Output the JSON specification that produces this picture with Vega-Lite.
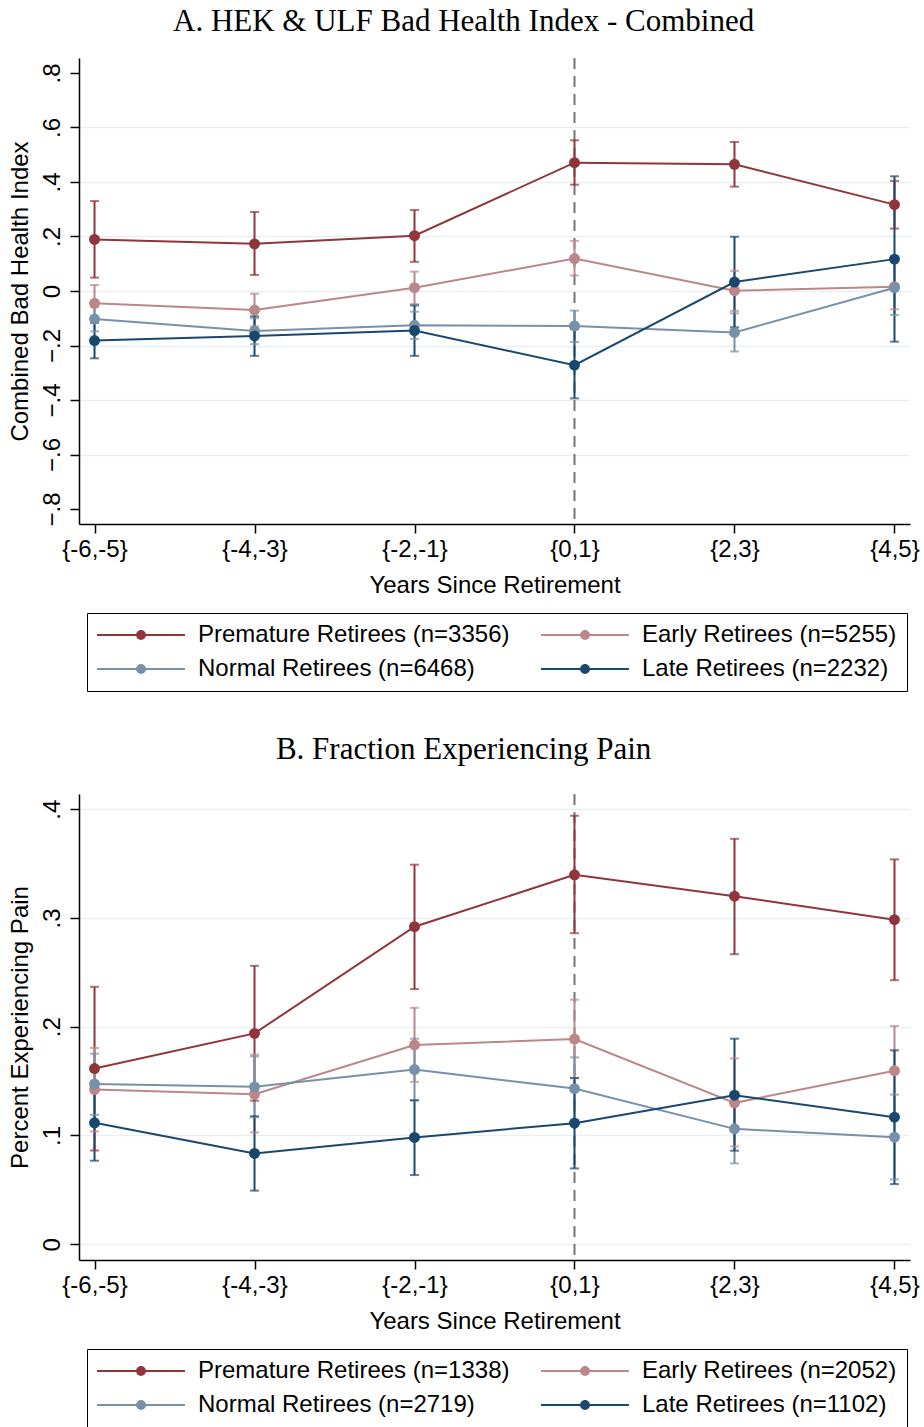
{
  "$schema": "https://vega.github.io/schema/vega-lite/v6.json",
  "background": "white",
  "padding": {"left": 8, "top": 6, "right": 4, "bottom": 0},
  "spacing": 42,
  "config": {
    "view": {"stroke": null},
    "font": "Liberation Sans",
    "axis": {
      "labelFont": "Liberation Sans", "labelFontSize": 24, "labelColor": "black",
      "titleFont": "Liberation Sans", "titleFontSize": 24, "titleFontWeight": "normal", "titleColor": "black",
      "domainColor": "black", "domainWidth": 1.5, "tickColor": "black", "tickWidth": 1.5, "tickSize": 9,
      "gridColor": "#e8f0f2", "gridWidth": 1.5
    },
    "axisX": {"grid": false, "labelAngle": 0, "labelPadding": 4, "titlePadding": 12},
    "axisY": {"labelAngle": 270, "labelPadding": 6, "titlePadding": 8},
    "legend": {
      "labelFont": "Liberation Sans", "labelFontSize": 24, "labelColor": "black", "labelLimit": 400,
      "symbolType": "M-1,-0.09H6.33V0.09H-1Z M2.26,0A0.41,0.41 0 1 1 3.08,0A0.41,0.41 0 1 1 2.26,0Z",
      "symbolSize": 576, "symbolStrokeWidth": 0,
      "strokeColor": "black", "padding": 10, "rowPadding": 10, "columnPadding": 31, "labelOffset": 77,
      "cornerRadius": 0
    },
    "title": {"font": "Liberation Serif", "fontSize": 31, "fontWeight": "normal", "color": "black", "anchor": "middle", "frame": "bounds"}
  },
  "datasets": {
    "a": [
      {"group": "Premature", "series": "Premature Retirees (n=3356)", "period": "{-6,-5}", "est": 0.189, "lo": 0.049, "hi": 0.33},
      {"group": "Premature", "series": "Premature Retirees (n=3356)", "period": "{-4,-3}", "est": 0.173, "lo": 0.059, "hi": 0.29},
      {"group": "Premature", "series": "Premature Retirees (n=3356)", "period": "{-2,-1}", "est": 0.203, "lo": 0.107, "hi": 0.297},
      {"group": "Premature", "series": "Premature Retirees (n=3356)", "period": "{0,1}", "est": 0.471, "lo": 0.39, "hi": 0.553},
      {"group": "Premature", "series": "Premature Retirees (n=3356)", "period": "{2,3}", "est": 0.465, "lo": 0.383, "hi": 0.547},
      {"group": "Premature", "series": "Premature Retirees (n=3356)", "period": "{4,5}", "est": 0.317, "lo": 0.229, "hi": 0.404},
      {"group": "Early", "series": "Early Retirees (n=5255)", "period": "{-6,-5}", "est": -0.045, "lo": -0.112, "hi": 0.022},
      {"group": "Early", "series": "Early Retirees (n=5255)", "period": "{-4,-3}", "est": -0.07, "lo": -0.13, "hi": -0.01},
      {"group": "Early", "series": "Early Retirees (n=5255)", "period": "{-2,-1}", "est": 0.012, "lo": -0.048, "hi": 0.071},
      {"group": "Early", "series": "Early Retirees (n=5255)", "period": "{0,1}", "est": 0.119, "lo": 0.057, "hi": 0.184},
      {"group": "Early", "series": "Early Retirees (n=5255)", "period": "{2,3}", "est": 0.001, "lo": -0.073, "hi": 0.074},
      {"group": "Early", "series": "Early Retirees (n=5255)", "period": "{4,5}", "est": 0.016, "lo": -0.067, "hi": 0.11},
      {"group": "Normal", "series": "Normal Retirees (n=6468)", "period": "{-6,-5}", "est": -0.103, "lo": -0.148, "hi": -0.058},
      {"group": "Normal", "series": "Normal Retirees (n=6468)", "period": "{-4,-3}", "est": -0.147, "lo": -0.195, "hi": -0.1},
      {"group": "Normal", "series": "Normal Retirees (n=6468)", "period": "{-2,-1}", "est": -0.126, "lo": -0.176, "hi": -0.076},
      {"group": "Normal", "series": "Normal Retirees (n=6468)", "period": "{0,1}", "est": -0.128, "lo": -0.187, "hi": -0.072},
      {"group": "Normal", "series": "Normal Retirees (n=6468)", "period": "{2,3}", "est": -0.152, "lo": -0.222, "hi": -0.082},
      {"group": "Normal", "series": "Normal Retirees (n=6468)", "period": "{4,5}", "est": 0.012, "lo": -0.088, "hi": 0.112},
      {"group": "Late", "series": "Late Retirees (n=2232)", "period": "{-6,-5}", "est": -0.182, "lo": -0.247, "hi": -0.117},
      {"group": "Late", "series": "Late Retirees (n=2232)", "period": "{-4,-3}", "est": -0.165, "lo": -0.238, "hi": -0.093},
      {"group": "Late", "series": "Late Retirees (n=2232)", "period": "{-2,-1}", "est": -0.145, "lo": -0.238, "hi": -0.053},
      {"group": "Late", "series": "Late Retirees (n=2232)", "period": "{0,1}", "est": -0.272, "lo": -0.394, "hi": -0.14},
      {"group": "Late", "series": "Late Retirees (n=2232)", "period": "{2,3}", "est": 0.033, "lo": -0.133, "hi": 0.199},
      {"group": "Late", "series": "Late Retirees (n=2232)", "period": "{4,5}", "est": 0.117, "lo": -0.186, "hi": 0.421}
    ],
    "b": [
      {"group": "Premature", "series": "Premature Retirees (n=1338)", "period": "{-6,-5}", "est": 0.1615, "lo": 0.0862, "hi": 0.2367},
      {"group": "Premature", "series": "Premature Retirees (n=1338)", "period": "{-4,-3}", "est": 0.1939, "lo": 0.132, "hi": 0.256},
      {"group": "Premature", "series": "Premature Retirees (n=1338)", "period": "{-2,-1}", "est": 0.292, "lo": 0.2346, "hi": 0.349},
      {"group": "Premature", "series": "Premature Retirees (n=1338)", "period": "{0,1}", "est": 0.3397, "lo": 0.286, "hi": 0.394},
      {"group": "Premature", "series": "Premature Retirees (n=1338)", "period": "{2,3}", "est": 0.32, "lo": 0.2667, "hi": 0.3728},
      {"group": "Premature", "series": "Premature Retirees (n=1338)", "period": "{4,5}", "est": 0.2984, "lo": 0.2428, "hi": 0.3539},
      {"group": "Early", "series": "Early Retirees (n=2052)", "period": "{-6,-5}", "est": 0.1422, "lo": 0.1037, "hi": 0.1805},
      {"group": "Early", "series": "Early Retirees (n=2052)", "period": "{-4,-3}", "est": 0.1379, "lo": 0.1028, "hi": 0.1743},
      {"group": "Early", "series": "Early Retirees (n=2052)", "period": "{-2,-1}", "est": 0.1832, "lo": 0.1493, "hi": 0.2174},
      {"group": "Early", "series": "Early Retirees (n=2052)", "period": "{0,1}", "est": 0.1887, "lo": 0.1526, "hi": 0.2248},
      {"group": "Early", "series": "Early Retirees (n=2052)", "period": "{2,3}", "est": 0.13, "lo": 0.0899, "hi": 0.1709},
      {"group": "Early", "series": "Early Retirees (n=2052)", "period": "{4,5}", "est": 0.1596, "lo": 0.1186, "hi": 0.2006},
      {"group": "Normal", "series": "Normal Retirees (n=2719)", "period": "{-6,-5}", "est": 0.1474, "lo": 0.119, "hi": 0.1752},
      {"group": "Normal", "series": "Normal Retirees (n=2719)", "period": "{-4,-3}", "est": 0.1447, "lo": 0.1167, "hi": 0.1727},
      {"group": "Normal", "series": "Normal Retirees (n=2719)", "period": "{-2,-1}", "est": 0.1606, "lo": 0.1322, "hi": 0.189},
      {"group": "Normal", "series": "Normal Retirees (n=2719)", "period": "{0,1}", "est": 0.1431, "lo": 0.1144, "hi": 0.1718},
      {"group": "Normal", "series": "Normal Retirees (n=2719)", "period": "{2,3}", "est": 0.1061, "lo": 0.0743, "hi": 0.1375},
      {"group": "Normal", "series": "Normal Retirees (n=2719)", "period": "{4,5}", "est": 0.0984, "lo": 0.0596, "hi": 0.1376},
      {"group": "Late", "series": "Late Retirees (n=1102)", "period": "{-6,-5}", "est": 0.1117, "lo": 0.0768, "hi": 0.1466},
      {"group": "Late", "series": "Late Retirees (n=1102)", "period": "{-4,-3}", "est": 0.0835, "lo": 0.0493, "hi": 0.1177},
      {"group": "Late", "series": "Late Retirees (n=1102)", "period": "{-2,-1}", "est": 0.0982, "lo": 0.0636, "hi": 0.1324},
      {"group": "Late", "series": "Late Retirees (n=1102)", "period": "{0,1}", "est": 0.1113, "lo": 0.0697, "hi": 0.1529},
      {"group": "Late", "series": "Late Retirees (n=1102)", "period": "{2,3}", "est": 0.137, "lo": 0.086, "hi": 0.189},
      {"group": "Late", "series": "Late Retirees (n=1102)", "period": "{4,5}", "est": 0.1168, "lo": 0.0553, "hi": 0.1783}
    ]
  },
  "vconcat": [
    {
      "title": {"text": "A. HEK & ULF Bad Health Index - Combined", "offset": 19},
      "width": 831, "height": 466,
      "data": {"name": "a"},
      "encoding": {
        "x": {"field": "period", "type": "ordinal",
              "scale": {"type": "point", "domain": ["{-6,-5}", "{-4,-3}", "{-2,-1}", "{0,1}", "{2,3}", "{4,5}"], "padding": 0.097},
              "axis": {"title": "Years Since Retirement"}}
      },
      "layer": [
        {"data": {"values": [{"period": "{0,1}"}]}, "mark": {"type": "rule", "color": "#757575", "strokeDash": [11, 7], "strokeWidth": 2}, "encoding": {}},
        {"mark": {"type": "rule", "strokeWidth": 2},
         "encoding": {
           "y": {"field": "lo", "type": "quantitative", "scale": {"domain": [-0.855, 0.855], "nice": false, "zero": false},
                 "axis": {"title": "Combined Bad Health Index", "values": [-0.8, -0.6, -0.4, -0.2, 0, 0.2, 0.4, 0.6, 0.8],
                          "labelExpr": "datum.value == 0 ? '0' : replace(format(datum.value, '.1f'), '0.', '.')",
                          "gridOpacity": {"condition": {"test": "abs(datum.value) > 0.7", "value": 0}, "value": 1}}},
           "y2": {"field": "hi"},
           "stroke": {"field": "group", "type": "nominal", "scale": {"domain": ["Premature", "Early", "Normal", "Late"], "range": ["#90353B", "#BC868A", "#7691A9", "#1A476F"]}, "legend": null}
         }},
        {"mark": {"type": "tick", "size": 9, "thickness": 2},
         "encoding": {
           "y": {"field": "lo", "type": "quantitative"},
           "fill": {"field": "group", "type": "nominal", "scale": {"domain": ["Premature", "Early", "Normal", "Late"], "range": ["#90353B", "#BC868A", "#7691A9", "#1A476F"]}, "legend": null}
         }},
        {"mark": {"type": "tick", "size": 9, "thickness": 2},
         "encoding": {
           "y": {"field": "hi", "type": "quantitative"},
           "fill": {"field": "group", "type": "nominal", "scale": {"domain": ["Premature", "Early", "Normal", "Late"], "range": ["#90353B", "#BC868A", "#7691A9", "#1A476F"]}, "legend": null}
         }},
        {"mark": {"type": "line", "strokeWidth": 2},
         "encoding": {
           "y": {"field": "est", "type": "quantitative"},
           "stroke": {"field": "group", "type": "nominal", "scale": {"domain": ["Premature", "Early", "Normal", "Late"], "range": ["#90353B", "#BC868A", "#7691A9", "#1A476F"]}, "legend": null}
         }},
        {"mark": {"type": "point", "filled": true, "size": 120, "opacity": 1},
         "encoding": {
           "y": {"field": "est", "type": "quantitative"},
           "color": {"field": "series", "type": "nominal",
                     "scale": {"domain": ["Premature Retirees (n=3356)", "Early Retirees (n=5255)", "Normal Retirees (n=6468)", "Late Retirees (n=2232)"], "range": ["#90353B", "#BC868A", "#7691A9", "#1A476F"]},
                     "legend": {"title": null, "orient": "none", "legendX": 8, "legendY": 555, "columns": 2, "direction": "horizontal"}}
         }}
      ]
    },
    {
      "title": {"text": "B. Fraction Experiencing Pain", "offset": 27},
      "width": 831, "height": 466,
      "data": {"name": "b"},
      "encoding": {
        "x": {"field": "period", "type": "ordinal",
              "scale": {"type": "point", "domain": ["{-6,-5}", "{-4,-3}", "{-2,-1}", "{0,1}", "{2,3}", "{4,5}"], "padding": 0.097},
              "axis": {"title": "Years Since Retirement"}}
      },
      "layer": [
        {"data": {"values": [{"period": "{0,1}"}]}, "mark": {"type": "rule", "color": "#757575", "strokeDash": [11, 7], "strokeWidth": 2}, "encoding": {}},
        {"mark": {"type": "rule", "strokeWidth": 2},
         "encoding": {
           "y": {"field": "lo", "type": "quantitative", "scale": {"domain": [-0.0145, 0.414], "nice": false, "zero": false},
                 "axis": {"title": "Percent Experiencing Pain", "values": [0, 0.1, 0.2, 0.3, 0.4],
                          "labelExpr": "datum.value == 0 ? '0' : replace(format(datum.value, '.1f'), '0.', '.')"}},
           "y2": {"field": "hi"},
           "stroke": {"field": "group", "type": "nominal", "scale": {"domain": ["Premature", "Early", "Normal", "Late"], "range": ["#90353B", "#BC868A", "#7691A9", "#1A476F"]}, "legend": null}
         }},
        {"mark": {"type": "tick", "size": 9, "thickness": 2},
         "encoding": {
           "y": {"field": "lo", "type": "quantitative"},
           "fill": {"field": "group", "type": "nominal", "scale": {"domain": ["Premature", "Early", "Normal", "Late"], "range": ["#90353B", "#BC868A", "#7691A9", "#1A476F"]}, "legend": null}
         }},
        {"mark": {"type": "tick", "size": 9, "thickness": 2},
         "encoding": {
           "y": {"field": "hi", "type": "quantitative"},
           "fill": {"field": "group", "type": "nominal", "scale": {"domain": ["Premature", "Early", "Normal", "Late"], "range": ["#90353B", "#BC868A", "#7691A9", "#1A476F"]}, "legend": null}
         }},
        {"mark": {"type": "line", "strokeWidth": 2},
         "encoding": {
           "y": {"field": "est", "type": "quantitative"},
           "stroke": {"field": "group", "type": "nominal", "scale": {"domain": ["Premature", "Early", "Normal", "Late"], "range": ["#90353B", "#BC868A", "#7691A9", "#1A476F"]}, "legend": null}
         }},
        {"mark": {"type": "point", "filled": true, "size": 120, "opacity": 1},
         "encoding": {
           "y": {"field": "est", "type": "quantitative"},
           "color": {"field": "series", "type": "nominal",
                     "scale": {"domain": ["Premature Retirees (n=1338)", "Early Retirees (n=2052)", "Normal Retirees (n=2719)", "Late Retirees (n=1102)"], "range": ["#90353B", "#BC868A", "#7691A9", "#1A476F"]},
                     "legend": {"title": null, "orient": "none", "legendX": 8, "legendY": 555, "columns": 2, "direction": "horizontal"}}
         }}
      ]
    }
  ],
  "resolve": {"scale": {"color": "independent", "y": "independent"}, "legend": {"color": "independent"}}
}
